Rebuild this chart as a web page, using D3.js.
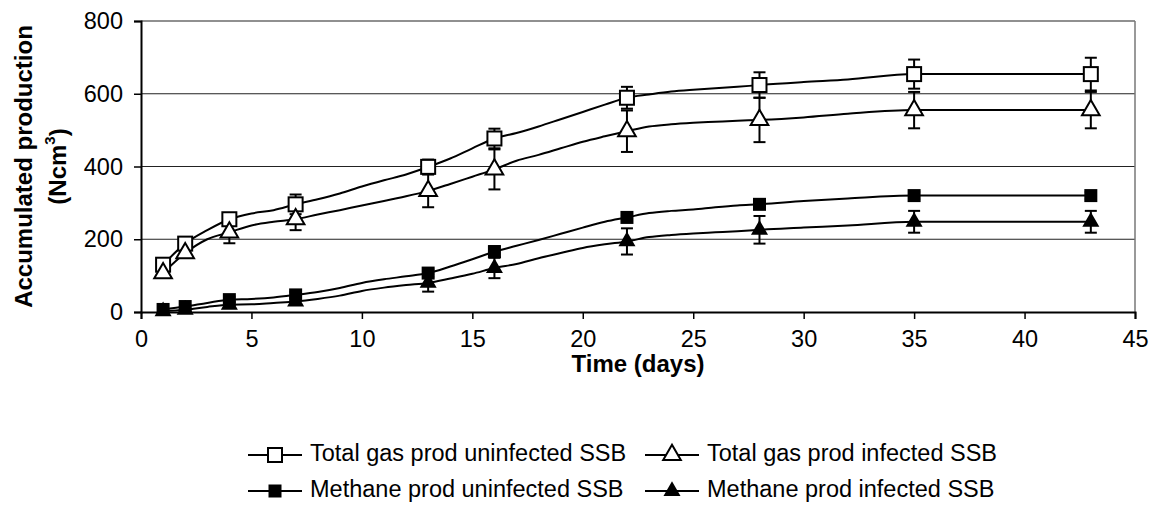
<!DOCTYPE html>
<html>
<head>
<meta charset="utf-8">
<script src="https://cdn.jsdelivr.net/npm/d3@7"></script>
<style>
  body { margin: 0; background: #fff; }
  text { font-family: Arial, "Liberation Sans", sans-serif; }
</style>
</head>
<body>
<script>
const width = 1156;
const height = 509;

// days at which the curves are drawn
const lineDays = [1, 2, 3, 4, 5, 6, 7, 8, 9, 10, 11, 12, 13, 14, 15, 16, 17, 18, 19, 20,
                  21, 22, 23, 24, 25, 26, 27, 28, 30, 32, 35, 43];

const totalUninfected = [130, 188, 225, 255, 271, 280, 296, 310, 326, 345, 362, 378, 399, 422, 450, 477,
                         492, 510, 530, 550, 570, 589, 598, 606, 611, 615, 619, 624, 632, 639, 654, 654];
const totalInfected = [107, 162, 200, 219, 238, 248, 255, 268, 280, 293, 305, 318, 333, 352, 372, 392,
                       416, 432, 450, 468, 483, 497, 510, 516, 520, 523, 526, 528, 535, 545, 555, 555];
const methaneUninfected = [7, 15, 25, 34, 36, 40, 47, 55, 66, 80, 90, 98, 107, 125, 145, 166,
                           182, 198, 215, 232, 248, 260, 272, 278, 282, 288, 293, 296, 305, 312, 320, 320];
const methaneInfected = [2, 6, 14, 20, 21, 25, 29, 36, 45, 58, 67, 74, 80, 92, 105, 121,
                         132, 148, 162, 176, 186, 194, 206, 212, 216, 219, 222, 226, 232, 238, 248, 248];

// days with a measured point (marker + error bar)
const markerDays = [1, 2, 4, 7, 13, 16, 22, 28, 35, 43];
const errTotalUninfected = [8, 15, 17, 27, 20, 27, 30, 35, 40, 45];
const errTotalInfected = [5, 5, 30, 30, 45, 55, 57, 61, 50, 50];
const errMethaneUninfected = [3, 3, 8, 8, 10, 15, 5, 5, 10, 10];
const errMethaneInfected = [3, 3, 8, 8, 24, 28, 36, 38, 30, 30];

const xTicks = [0, 5, 10, 15, 20, 25, 30, 35, 40, 45];
const yTicks = [0, 200, 400, 600, 800];

const seriesNames = ["Total gas prod uninfected SSB", "Total gas prod infected SSB",
                     "Methane prod uninfected SSB", "Methane prod infected SSB"];

const series = [
  { name: seriesNames[0], values: totalUninfected, err: errTotalUninfected, shape: "square", fill: "#fff" },
  { name: seriesNames[1], values: totalInfected, err: errTotalInfected, shape: "triangle", fill: "#fff" },
  { name: seriesNames[2], values: methaneUninfected, err: errMethaneUninfected, shape: "square", fill: "#000" },
  { name: seriesNames[3], values: methaneInfected, err: errMethaneInfected, shape: "triangle", fill: "#000" }
];

const plotLeft = 141, plotRight = 1135, plotTop = 21, plotBottom = 312;

const x = d3.scaleLinear().domain([0, 45]).range([plotLeft, plotRight]);
const y = d3.scaleLinear().domain([0, 800]).range([plotBottom, plotTop]);

const svg = d3.select("body").append("svg")
  .attr("width", width)
  .attr("height", height);

// grid lines
svg.append("g")
  .selectAll("line")
  .data(yTicks.filter(d => d > 0))
  .join("line")
  .attr("x1", plotLeft).attr("x2", plotRight)
  .attr("y1", d => y(d)).attr("y2", d => y(d))
  .attr("stroke", "#222")
  .attr("stroke-width", 1.2);

// right border
svg.append("line")
  .attr("x1", plotRight).attr("x2", plotRight)
  .attr("y1", plotTop).attr("y2", plotBottom)
  .attr("stroke", "#777")
  .attr("stroke-width", 1.5);

// axes
const xAxis = svg.append("g")
  .attr("transform", `translate(0,${plotBottom})`)
  .call(d3.axisBottom(x).tickValues(xTicks).tickSizeOuter(0).tickSize(7).tickPadding(11));
const yAxis = svg.append("g")
  .attr("transform", `translate(${plotLeft},0)`)
  .call(d3.axisLeft(y).tickValues(yTicks).tickSizeOuter(0).tickSize(7).tickPadding(11));

[xAxis, yAxis].forEach(g => {
  g.select(".domain").attr("stroke", "#000").attr("stroke-width", 2);
  g.selectAll(".tick line").attr("stroke", "#000").attr("stroke-width", 1.5);
  g.selectAll(".tick text")
    .attr("font-size", "23.5px")
    .attr("font-family", "Arial, 'Liberation Sans', sans-serif")
    .attr("fill", "#000");
});

const line = d3.line()
  .x((d, i) => x(lineDays[i]))
  .y(d => y(d))
  .curve(d3.curveMonotoneX);

// lines
series.forEach(s => {
  svg.append("path")
    .attr("d", line(s.values))
    .attr("fill", "none")
    .attr("stroke", "#000")
    .attr("stroke-width", 2);
});

function valueAt(s, day) {
  return s.values[lineDays.indexOf(day)];
}

// error bars
series.forEach(s => {
  const g = svg.append("g");
  markerDays.forEach((day, i) => {
    const v = valueAt(s, day);
    const e = s.err[i];
    const cx = x(day);
    g.append("line")
      .attr("x1", cx).attr("x2", cx)
      .attr("y1", y(v - e)).attr("y2", y(v + e))
      .attr("stroke", "#000").attr("stroke-width", 2);
    [v - e, v + e].forEach(w => {
      g.append("line")
        .attr("x1", cx - 6).attr("x2", cx + 6)
        .attr("y1", y(w)).attr("y2", y(w))
        .attr("stroke", "#000").attr("stroke-width", 2);
    });
  });
});

function drawMarker(g, shape, fill, cx, cy) {
  if (shape === "square") {
    const sz = fill === "#000" ? 11 : 14;
    g.append("rect")
      .attr("x", cx - sz / 2).attr("y", cy - sz / 2)
      .attr("width", sz).attr("height", sz)
      .attr("fill", fill)
      .attr("stroke", "#000").attr("stroke-width", 2);
  } else {
    const sz = fill === "#000" ? 80 : 135;
    g.append("path")
      .attr("d", d3.symbol(d3.symbolTriangle, sz)())
      .attr("transform", `translate(${cx},${cy})`)
      .attr("fill", fill)
      .attr("stroke", "#000").attr("stroke-width", 2);
  }
}

// markers
series.forEach(s => {
  const g = svg.append("g");
  markerDays.forEach(day => {
    drawMarker(g, s.shape, s.fill, x(day), y(valueAt(s, day)));
  });
});

// axis titles
svg.append("text")
  .attr("x", (plotLeft + plotRight) / 2)
  .attr("y", 366)
  .attr("text-anchor", "middle")
  .attr("dominant-baseline", "middle")
  .attr("font-size", "24px")
  .attr("font-weight", "bold")
  .text("Time (days)");

const yTitle = svg.append("text")
  .attr("transform", `translate(24,${(plotTop + plotBottom) / 2}) rotate(-90)`)
  .attr("text-anchor", "middle")
  .attr("font-size", "24px")
  .attr("font-weight", "bold");
yTitle.append("tspan")
  .attr("x", 0).attr("dy", "0.35em")
  .text("Accumulated production");
const t2 = yTitle.append("tspan").attr("x", 0).attr("dy", "1.4em");
t2.append("tspan").text("(Ncm");
t2.append("tspan").attr("font-size", "15px").attr("dy", "-0.75em").text("3");
t2.append("tspan").attr("dy", "0.5em").text(")");

// legend
const legendPos = [
  { lx: 248, ly: 455 },
  { lx: 645, ly: 455 },
  { lx: 248, ly: 491 },
  { lx: 645, ly: 491 }
];
series.forEach((s, i) => {
  const p = legendPos[i];
  const g = svg.append("g");
  g.append("line")
    .attr("x1", p.lx).attr("x2", p.lx + 54)
    .attr("y1", p.ly).attr("y2", p.ly)
    .attr("stroke", "#000").attr("stroke-width", 2);
  drawMarker(g, s.shape, s.fill, p.lx + 27, p.ly);
  g.append("text")
    .attr("x", p.lx + 62)
    .attr("y", p.ly)
    .attr("dominant-baseline", "middle")
    .attr("font-size", "23.5px")
    .text(s.name);
});
</script>
</body>
</html>
